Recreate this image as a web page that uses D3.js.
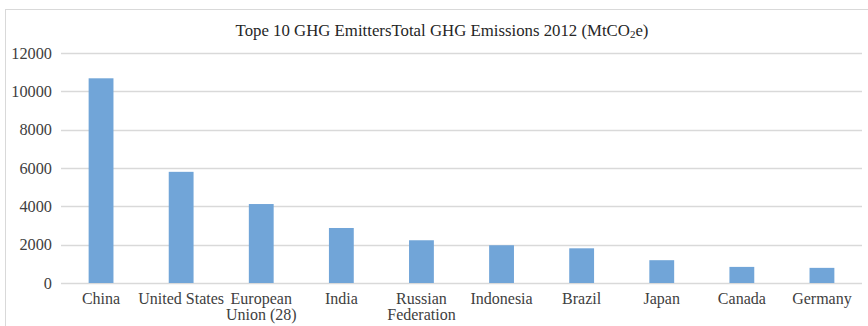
<!DOCTYPE html>
<html>
<head>
<meta charset="utf-8">
<script src="https://cdn.jsdelivr.net/npm/d3@7"></script>
<style>
  body { margin: 0; background: #fff; }
</style>
</head>
<body>
<script>
var categories = ["China", "United States", "European Union (28)", "India", "Russian Federation",
                  "Indonesia", "Brazil", "Japan", "Canada", "Germany"];
var emissions = [10680, 5800, 4120, 2870, 2230, 1970, 1810, 1190, 840, 790];
var yTicks = [0, 2000, 4000, 6000, 8000, 10000, 12000];

var width = 868, height = 326;
var margin = {top: 53, right: 6, bottom: 43, left: 61};
var serif = "'Liberation Serif', 'Times New Roman', Times, serif";

var svg = d3.select("body").append("svg")
    .attr("width", width)
    .attr("height", height)
    .style("font-family", serif);

// chart frame (only top and left edge visible in the crop)
svg.append("rect")
    .attr("x", 5.5).attr("y", 9.5)
    .attr("width", width + 10).attr("height", height + 10)
    .attr("fill", "none")
    .attr("stroke", "#d9d9d9");

var x = d3.scaleBand()
    .domain(categories)
    .range([margin.left, width - margin.right])
    .paddingInner(0.69)
    .paddingOuter(0.345);

var y = d3.scaleLinear()
    .domain([0, 12000])
    .range([height - margin.bottom, margin.top]);

// gridlines
svg.append("g")
    .selectAll("line")
    .data(yTicks)
  .enter().append("line")
    .attr("x1", margin.left)
    .attr("x2", width - margin.right)
    .attr("y1", function(d) { return Math.round(y(d)) + 0.5; })
    .attr("y2", function(d) { return Math.round(y(d)) + 0.5; })
    .attr("stroke", "#d9d9d9")
    .attr("stroke-width", 1.3);

// y axis labels
var yAxis = d3.axisLeft(y).tickValues(yTicks).tickFormat(d3.format("d")).tickSize(0).tickPadding(9);
var gy = svg.append("g")
    .attr("transform", "translate(" + margin.left + ",0)")
    .call(yAxis)
    .attr("font-family", null)
    .attr("font-size", null);
gy.select(".domain").remove();
gy.selectAll("text")
    .style("font-family", serif)
    .style("font-size", "16.3px")
    .attr("fill", "#404040");

// bars
svg.append("g")
    .selectAll("rect")
    .data(emissions)
  .enter().append("rect")
    .attr("x", function(d, i) { return x(categories[i]); })
    .attr("y", function(d) { return y(d); })
    .attr("width", x.bandwidth())
    .attr("height", function(d) { return y(0) - y(d); })
    .attr("fill", "#71a5d8");

// x axis labels
var xAxis = d3.axisBottom(x).tickSize(0).tickPadding(10);
var gx = svg.append("g")
    .attr("transform", "translate(0," + y(0) + ")")
    .call(xAxis)
    .attr("font-family", null)
    .attr("font-size", null);
gx.select(".domain").remove();
gx.selectAll("text")
    .style("font-family", serif)
    .style("font-size", "16px")
    .attr("fill", "#404040")
    .call(wrap, 95);

function wrap(texts, w) {
  texts.each(function() {
    var text = d3.select(this),
        words = text.text().split(/\s+/),
        yy = text.attr("y"),
        dy = parseFloat(text.attr("dy")),
        lines = [], line = [];
    text.text(null);
    var probe = text.append("tspan");
    words.forEach(function(wd) {
      line.push(wd);
      probe.text(line.join(" "));
      if (probe.node().getComputedTextLength() > w && line.length > 1) {
        line.pop();
        lines.push(line.join(" "));
        line = [wd];
      }
    });
    lines.push(line.join(" "));
    probe.remove();
    lines.forEach(function(l, k) {
      text.append("tspan")
          .attr("x", 0)
          .attr("y", yy)
          .attr("dy", (dy + k * 1.0) + "em")
          .text(l);
    });
  });
}

// title
var title = svg.append("text")
    .attr("x", 442)
    .attr("y", 36)
    .attr("text-anchor", "middle")
    .style("font-family", serif)
    .style("font-size", "16.8px")
    .attr("fill", "#262626");
title.append("tspan").text("Tope 10 GHG EmittersTotal GHG Emissions 2012 (MtCO");
title.append("tspan").style("font-size", "11px").attr("dy", "2").text("2");
title.append("tspan").attr("dy", "-2").text("e)");
</script>
</body>
</html>
